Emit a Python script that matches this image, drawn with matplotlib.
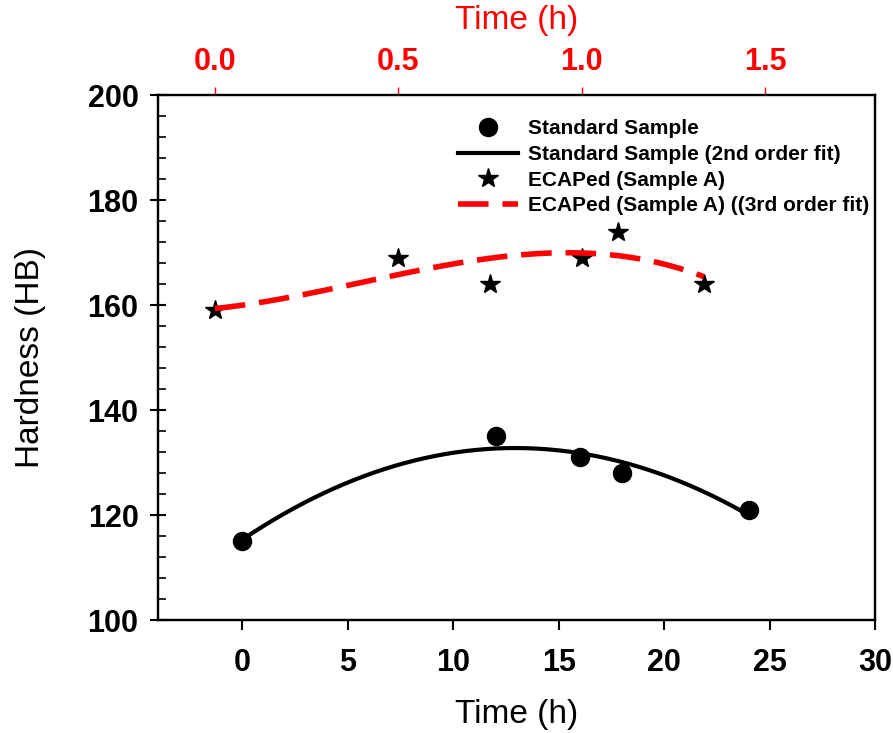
import numpy as np
import matplotlib
matplotlib.use('Agg')
import matplotlib.pyplot as plt
from matplotlib.ticker import MultipleLocator

plt.rcParams['font.family'] = ['Liberation Sans Narrow', 'Liberation Sans', 'DejaVu Sans']

# data
t_std = [0, 12, 16, 18, 24]
hb_std = [115, 135, 131, 128, 121]
t_ecap = [0.0, 0.5, 0.75, 1.0, 1.1, 1.333]
hb_ecap = [159, 169, 164, 169, 174, 164]

fig = plt.figure(figsize=(8.93, 7.33), dpi=100)
ax = fig.add_axes([0.177, 0.154, 0.803, 0.716])
ax2 = ax.twiny()

# fits
p2 = np.polyfit(t_std, hb_std, 2)
xs = np.linspace(min(t_std), max(t_std), 200)
p3 = np.polyfit(t_ecap, hb_ecap, 3)
xe = np.linspace(min(t_ecap), max(t_ecap), 200)

h1, = ax.plot(t_std, hb_std, 'o', color='black', ms=13, ls='none', label='Standard Sample')
h2, = ax.plot(xs, np.polyval(p2, xs), color='black', lw=3, label='Standard Sample (2nd order fit)')
h3, = ax2.plot(t_ecap, hb_ecap, '*', color='black', ms=15, ls='none', label='ECAPed (Sample A)')
h4, = ax2.plot(xe, np.polyval(p3, xe), color='red', lw=4, ls=(0, (5.5, 2.5)),
               label='ECAPed (Sample A) ((3rd order fit)')

ax.set_xlim(-4, 30)
ax.set_ylim(100, 200)
ax2.set_xlim(-0.155, 1.80)

ax.xaxis.set_major_locator(MultipleLocator(5))
ax.yaxis.set_major_locator(MultipleLocator(20))
ax.yaxis.set_minor_locator(MultipleLocator(4))
ax2.xaxis.set_major_locator(MultipleLocator(0.5))
ax2.xaxis.set_major_formatter(matplotlib.ticker.FormatStrFormatter('%.1f'))

for a in (ax, ax2):
    for s in a.spines.values():
        s.set_linewidth(1.6)

ax.tick_params(axis='x', which='major', direction='out', length=7, width=1.5,
               labelsize=22, pad=13)
ax.tick_params(axis='y', which='major', direction='inout', length=12, width=1.5,
               labelsize=22, pad=8)
ax.tick_params(axis='y', which='minor', direction='in', length=6, width=1.2)
ax2.tick_params(axis='x', which='major', direction='out', length=6, width=1,
                color='red', labelcolor='red', labelsize=22, pad=7)

for lab in ax.get_xticklabels() + ax.get_yticklabels() + ax2.get_xticklabels():
    lab.set_fontweight('bold')

ax.set_xlabel('Time (h)', fontsize=24, labelpad=15)
ax.set_ylabel('Hardness (HB)', fontsize=24, labelpad=30)
ax2.set_xlabel('Time (h)', fontsize=24, color='red', labelpad=13)

leg = ax2.legend(handles=[h1, h2, h3, h4], loc='upper left', bbox_to_anchor=(0.392, 0.99),
                 frameon=False, prop={'weight': 'bold', 'size': 15},
                 handlelength=2.9, handletextpad=0.48, labelspacing=0.32)

fig.savefig('out.png', dpi=100)
